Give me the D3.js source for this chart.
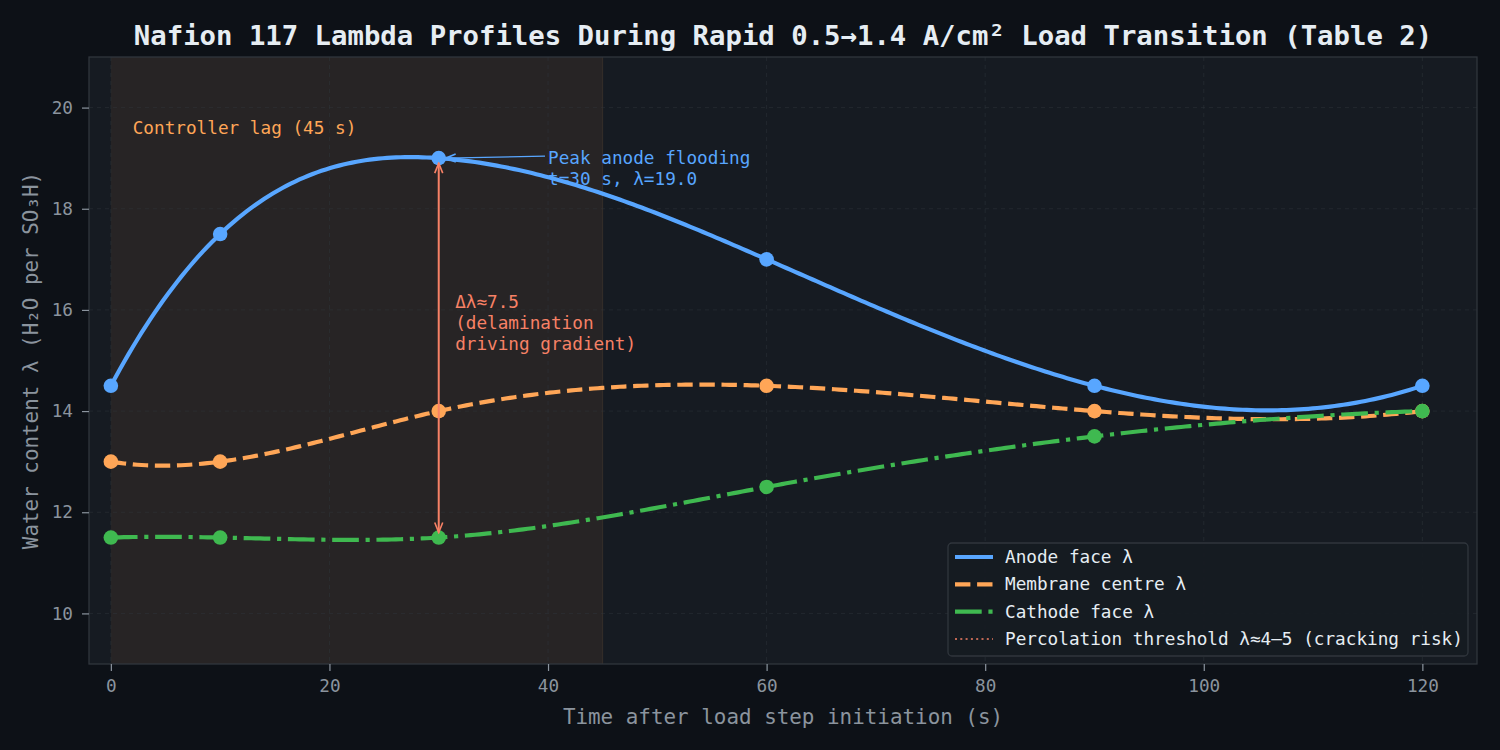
<!DOCTYPE html>
<html><head><meta charset="utf-8">
<script src="https://cdn.jsdelivr.net/npm/d3@7"></script>
<style>html,body{margin:0;padding:0;background:#0d1117;}svg{display:block;}</style>
</head><body>
<svg id="c" width="1500" height="750"></svg>
<script>
const times = [0, 10, 30, 60, 90, 120];
const anodeFace = [14.5, 17.5, 19.0, 17.0, 14.5, 14.5];
const membraneCentre = [13.0, 13.0, 14.0, 14.5, 14.0, 14.0];
const cathodeFace = [11.5, 11.5, 11.5, 12.5, 13.5, 14.0];
const xTicks = [0, 20, 40, 60, 80, 100, 120];
const yTicks = [10, 12, 14, 16, 18, 20];
const lagEnd = 45;
const peakT = 30, peakL = 19.0;
const titleText = "Nafion 117 Lambda Profiles During Rapid 0.5→1.4 A/cm² Load Transition (Table 2)";
const legendLabels = ["Anode face λ", "Membrane centre λ", "Cathode face λ", "Percolation threshold λ≈4–5 (cracking risk)"];

const FONT = "'DejaVu Sans Mono', monospace";
const FS = 17.7;
const W = 1500, H = 750;
const m = {l: 89, r: 1477, t: 57, b: 664};
const x = d3.scaleLinear().domain([-2, 125]).range([m.l, m.r]);
const y = d3.scaleLinear().domain([9, 21]).range([m.b, m.t]);

const svg = d3.select("#c");
svg.append("rect").attr("width", W).attr("height", H).attr("fill", "#0d1117");
svg.append("rect").attr("x", m.l).attr("y", m.t).attr("width", m.r - m.l).attr("height", m.b - m.t).attr("fill", "#161b22");

// shaded lag region
svg.append("rect").attr("x", x(0)).attr("y", m.t).attr("width", x(lagEnd) - x(0)).attr("height", m.b - m.t)
  .attr("fill", "#ffa657").attr("fill-opacity", 0.075);
svg.append("line").attr("x1", x(lagEnd)).attr("x2", x(lagEnd)).attr("y1", m.t).attr("y2", m.b)
  .attr("stroke", "#ffa657").attr("stroke-opacity", 0.1).attr("stroke-width", 1);

// grid
const grid = svg.append("g");
xTicks.forEach(t => grid.append("line").attr("x1", x(t)).attr("x2", x(t)).attr("y1", m.t).attr("y2", m.b)
  .attr("stroke", "#30363d").attr("stroke-opacity", 0.6).attr("stroke-dasharray", "4,4").attr("stroke-width", 0.8));
yTicks.forEach(t => grid.append("line").attr("x1", m.l).attr("x2", m.r).attr("y1", y(t)).attr("y2", y(t))
  .attr("stroke", "#30363d").attr("stroke-opacity", 0.6).attr("stroke-dasharray", "4,4").attr("stroke-width", 0.8));

// spines
svg.append("rect").attr("x", m.l).attr("y", m.t).attr("width", m.r - m.l).attr("height", m.b - m.t)
  .attr("fill", "none").attr("stroke", "#30363d").attr("stroke-width", 1.3);

// axes
const xAxis = svg.append("g").attr("transform", `translate(0,${m.b})`)
  .call(d3.axisBottom(x).tickValues(xTicks).tickSize(7).tickPadding(8).tickFormat(d3.format("d")));
const yAxis = svg.append("g").attr("transform", `translate(${m.l},0)`)
  .call(d3.axisLeft(y).tickValues(yTicks).tickSize(7).tickPadding(9).tickFormat(d3.format("d")));
[xAxis, yAxis].forEach(a => {
  a.select(".domain").remove();
  a.selectAll(".tick line").attr("stroke", "#8b949e").attr("stroke-width", 1.2);
  a.selectAll(".tick text").attr("fill", "#8b949e").attr("font-family", FONT).attr("font-size", FS);
});

// spline (not-a-knot) sampler for smooth rendering
function spline(xs, ys) {
  const n = xs.length, h = [];
  for (let i = 0; i < n - 1; i++) h.push(xs[i + 1] - xs[i]);
  const A = Array.from({length: n}, () => new Array(n).fill(0)), b = new Array(n).fill(0);
  A[0][0] = h[1]; A[0][1] = -(h[0] + h[1]); A[0][2] = h[0];
  for (let i = 1; i < n - 1; i++) {
    A[i][i - 1] = h[i - 1]; A[i][i] = 2 * (h[i - 1] + h[i]); A[i][i + 1] = h[i];
    b[i] = 6 * ((ys[i + 1] - ys[i]) / h[i] - (ys[i] - ys[i - 1]) / h[i - 1]);
  }
  A[n - 1][n - 3] = h[n - 2]; A[n - 1][n - 2] = -(h[n - 3] + h[n - 2]); A[n - 1][n - 1] = h[n - 3];
  for (let c = 0; c < n; c++) {
    let p = c;
    for (let r = c + 1; r < n; r++) if (Math.abs(A[r][c]) > Math.abs(A[p][c])) p = r;
    [A[c], A[p]] = [A[p], A[c]]; [b[c], b[p]] = [b[p], b[c]];
    for (let r = c + 1; r < n; r++) {
      const f = A[r][c] / A[c][c];
      for (let k = c; k < n; k++) A[r][k] -= f * A[c][k];
      b[r] -= f * b[c];
    }
  }
  const M = new Array(n).fill(0);
  for (let r = n - 1; r >= 0; r--) {
    let s = b[r];
    for (let k = r + 1; k < n; k++) s -= A[r][k] * M[k];
    M[r] = s / A[r][r];
  }
  return t => {
    let i = 0;
    while (i < n - 2 && t > xs[i + 1]) i++;
    const hi = h[i], a = xs[i + 1] - t, bb = t - xs[i];
    return M[i] * a * a * a / (6 * hi) + M[i + 1] * bb * bb * bb / (6 * hi)
      + (ys[i] / hi - M[i] * hi / 6) * a + (ys[i + 1] / hi - M[i + 1] * hi / 6) * bb;
  };
}

const LW = 4.17;
const series = [
  {vals: anodeFace, color: "#58a6ff", dash: null},
  {vals: membraneCentre, color: "#ffa657", dash: [15.4, 6.7]},
  {vals: cathodeFace, color: "#3fb950", dash: [26.7, 6.7, 4.17, 6.7]}
];
const line = d3.line().x(d => x(d[0])).y(d => y(d[1]));
const tSamples = d3.range(0, 300).map(i => times[0] + (times[times.length - 1] - times[0]) * i / 299);
series.forEach(s => {
  const f = spline(times, s.vals);
  svg.append("path").datum(tSamples.map(t => [t, f(t)])).attr("d", line)
    .attr("fill", "none").attr("stroke", s.color).attr("stroke-width", LW)
    .attr("stroke-dasharray", s.dash ? s.dash.join(",") : null).attr("stroke-linejoin", "round");
});
series.forEach(s => {
  svg.append("g").selectAll("circle").data(times.map((t, i) => [t, s.vals[i]])).join("circle")
    .attr("cx", d => x(d[0])).attr("cy", d => y(d[1])).attr("r", 7.3).attr("fill", s.color);
});

// arrowheads
const defs = svg.append("defs");
function marker(id, color) {
  defs.append("marker").attr("id", id).attr("viewBox", "0 0 12 12").attr("refX", 11).attr("refY", 6)
    .attr("markerWidth", 12).attr("markerHeight", 12).attr("markerUnits", "userSpaceOnUse").attr("orient", "auto-start-reverse")
    .append("path").attr("d", "M1,2 L11,6 L1,10").attr("fill", "none").attr("stroke", color).attr("stroke-width", 1.6);
}
marker("arRed", "#f78166");
marker("arBlue", "#58a6ff");

// delta arrow
const dPeak = anodeFace[times.indexOf(peakT)], dLow = cathodeFace[times.indexOf(peakT)];
svg.append("line").attr("x1", x(peakT)).attr("x2", x(peakT)).attr("y1", y(dPeak) + 5).attr("y2", y(dLow) - 5)
  .attr("stroke", "#f78166").attr("stroke-width", 2)
  .attr("marker-start", "url(#arRed)").attr("marker-end", "url(#arRed)");
const dTxt = svg.append("text").attr("font-family", FONT).attr("font-size", FS).attr("fill", "#f78166");
["Δλ≈" + (dPeak - dLow).toFixed(1), "(delamination", "driving gradient)"].forEach((s, i) =>
  dTxt.append("tspan").attr("x", x(31.5)).attr("y", y(15.75) + (i - 1) * 21 + 6).text(s));

// peak annotation
svg.append("line").attr("x1", x(40) - 3).attr("y1", y(peakL) - 2).attr("x2", x(peakT) + 7).attr("y2", y(peakL))
  .attr("stroke", "#58a6ff").attr("stroke-width", 1.3).attr("marker-end", "url(#arBlue)");
const pTxt = svg.append("text").attr("font-family", FONT).attr("font-size", FS).attr("fill", "#58a6ff");
["Peak anode flooding", `t=${peakT} s, λ=${peakL.toFixed(1)}`].forEach((s, i) =>
  pTxt.append("tspan").attr("x", x(40)).attr("y", y(18.8) + (i - 0.5) * 21 + 6).text(s));

// lag label
svg.append("text").attr("x", x(2)).attr("y", y(19.6) + 6).attr("font-family", FONT).attr("font-size", FS)
  .attr("fill", "#ffa657").text(`Controller lag (${lagEnd} s)`);

// title and labels
svg.append("text").attr("x", (m.l + m.r) / 2).attr("y", 45).attr("text-anchor", "middle")
  .attr("font-family", FONT).attr("font-weight", "bold").attr("font-size", 27.3).attr("fill", "#e6edf3").text(titleText);
svg.append("text").attr("x", (m.l + m.r) / 2).attr("y", 724).attr("text-anchor", "middle")
  .attr("font-family", FONT).attr("font-size", 20.9).attr("fill", "#8b949e").text("Time after load step initiation (s)");
svg.append("text").attr("transform", `translate(38,${(m.t + m.b) / 2}) rotate(-90)`).attr("text-anchor", "middle")
  .attr("font-family", FONT).attr("font-size", 20.9).attr("fill", "#8b949e").text("Water content λ (H₂O per SO₃H)");

// legend
const lg = svg.append("g");
lg.append("rect").attr("x", 948).attr("y", 543).attr("width", 520).attr("height", 113).attr("rx", 4)
  .attr("fill", "#161b22").attr("fill-opacity", 0.92).attr("stroke", "#30363d").attr("stroke-width", 1.3);
const legItems = [
  {color: "#58a6ff", dash: null, w: LW},
  {color: "#ffa657", dash: "15.4,6.7", w: LW},
  {color: "#3fb950", dash: "26.7,6.7,4.17,6.7", w: LW},
  {color: "#f78166", dash: "2,3.3", w: 1.5}
];
legItems.forEach((it, i) => {
  const yy = 557 + i * 27.3;
  lg.append("line").attr("x1", 955).attr("x2", 993).attr("y1", yy).attr("y2", yy)
    .attr("stroke", it.color).attr("stroke-width", it.w).attr("stroke-dasharray", it.dash);
  lg.append("text").attr("x", 1005).attr("y", yy + 6).attr("font-family", FONT).attr("font-size", FS)
    .attr("fill", "#e6edf3").text(legendLabels[i]);
});
</script>
</body></html>
